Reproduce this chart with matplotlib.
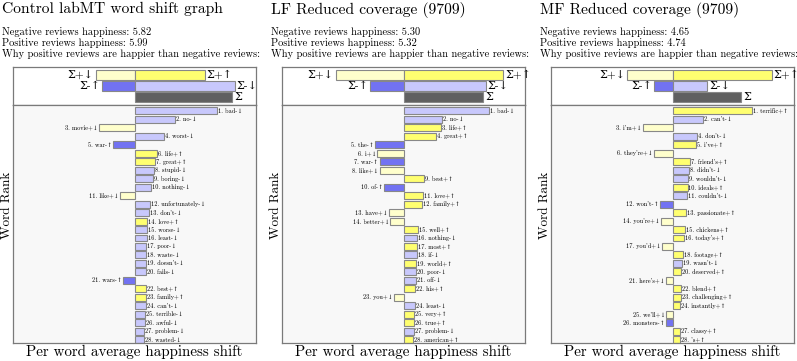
import matplotlib
matplotlib.use('Agg')
import matplotlib.pyplot as plt

plt.rcParams['font.family'] = ['cmr10', 'DejaVu Serif']
plt.rcParams['axes.formatter.use_mathtext'] = True

# panel titles and the two happiness averages
titles = ['Control labMT word shift graph', 'LF Reduced coverage (9709)', 'MF Reduced coverage (9709)']
neg_happs = [5.82, 5.30, 4.65]
pos_happs = [5.99, 5.32, 4.74]

# summary bars: sum +down, sum +up, sum -up, sum -down
ctrl_sums = [-39.3, 69.7, -33.0, 99.7]
lf_sums = [-68.0, 99.0, -33.7, 81.7]
mf_sums = [-45.7, 99.0, -19.0, 34.0]

ctrl_words = ['bad', 'no', 'movie', 'worst', 'war', 'life', 'great', 'stupid', 'boring', 'nothing',
              'like', 'unfortunately', "don't", 'love', 'worse', 'least', 'poor', 'waste', "doesn't",
              'fails', 'wars', 'best', 'family', "can't", 'terrible', 'awful', 'problem', 'wasted']
ctrl_types = ['-↓', '-↓', '+↓', '-↓', '-↑', '+↑', '+↑', '-↓', '-↓', '-↓', '+↓', '-↓', '-↓', '+↑',
              '-↓', '-↓', '-↓', '-↓', '-↓', '-↓', '-↑', '+↑', '+↑', '-↓', '-↓', '-↓', '-↓', '-↓']
ctrl_shift = [82.3, 40, -36.3, 29.3, -21.7, 21.7, 20, 19, 17.7, 15.7, -15.3, 14.7, 14, 12.3,
              12, 11.7, 11.3, 11.3, 11.3, 11, -11.7, 11, 10.7, 10.7, 10, 9.7, 9.3, 9]

lf_words = ['bad', 'no', 'life', 'great', 'the', 'i', 'war', 'like', 'best', 'of', 'love', 'family',
            'have', 'better', 'well', 'nothing', 'most', 'if', 'world', 'poor', 'off', 'his', 'you',
            'least', 'very', 'true', 'problem', 'american']
lf_types = ['-↓', '-↓', '+↑', '+↑', '-↑', '+↓', '-↑', '+↓', '+↑', '-↑', '+↑', '+↑', '+↓', '+↓',
            '+↑', '-↓', '+↑', '-↓', '+↑', '-↓', '-↓', '+↑', '+↓', '-↓', '+↑', '+↑', '-↓', '+↑']
lf_shift = [85.3, 38, 37.3, 32, -29.3, -26.7, -24.3, -24.3, 20, -19.7, 19, 18.3, -15.3, -13.7,
            13.7, 13.3, 13.3, 13, 12.3, 12, 11.7, 11.3, -10.3, 10.7, 10.3, 10, 9.7, 9.3]

mf_words = ['terrific', "can't", "i'm", "don't", "i've", "they're", "friend's", "didn't", "wouldn't",
            'ideals', "couldn't", "won't", 'passionate', "you're", 'chickens', "today's", "you'd",
            'footage', "wasn't", 'deserved', "here's", 'blend', 'challenging', 'instantly', "we'll",
            'monsters', 'classy', "'s"]
mf_types = ['+↑', '-↓', '+↓', '-↓', '+↑', '+↓', '+↑', '-↓', '-↓', '+↑', '-↓', '-↑', '+↑', '+↓',
            '+↑', '+↑', '+↓', '+↑', '-↓', '+↑', '+↓', '+↑', '+↑', '+↑', '+↓', '-↑', '+↑', '+↑']
mf_shift = [79, 30.3, -30.3, 23.7, 23.3, -19.3, 17.3, 15.7, 14.7, 14.5, 14.3, -13, 12.7, -12.3,
            12, 11.3, -10.7, 9.7, 9, 8.3, -7, 7.7, 7.7, 7.3, -6.7, -6.7, 7, 6.7]

panel_sums = [ctrl_sums, lf_sums, mf_sums]
panel_words = [ctrl_words, lf_words, mf_words]
panel_types = [ctrl_types, lf_types, mf_types]
panel_shifts = [ctrl_shift, lf_shift, mf_shift]

colors = {'+↑': '#ffff70', '+↓': '#ffffcc', '-↑': '#7272f2', '-↓': '#c8c8fc'}
edge = '#888888'
frame = '#7a7a7a'

W, H = 797, 361
fig = plt.figure(figsize=(W / 100, H / 100), dpi=100)

lefts = [13, 282, 551]
width = 243
y_top, y_div, y_bot = 67, 105, 343

for k in range(3):
    x0 = lefts[k]
    ax_s = fig.add_axes([x0 / W, 1 - y_div / H, width / W, (y_div - y_top) / H])
    ax_m = fig.add_axes([x0 / W, 1 - y_bot / H, width / W, (y_bot - y_div) / H])

    # header text
    fig.text((x0 - 11) / W, 1 - 13.5 / H, titles[k], fontsize=11.2, ha='left', va='baseline')
    fig.text((x0 - 11) / W, 1 - 35 / H, f'Negative reviews happiness: {neg_happs[k]:.2f}',
             fontsize=7.5, ha='left', va='baseline')
    fig.text((x0 - 11) / W, 1 - 46 / H, f'Positive reviews happiness: {pos_happs[k]:.2f}',
             fontsize=7.5, ha='left', va='baseline')
    fig.text((x0 - 11) / W, 1 - 56.7 / H, 'Why positive reviews are happier than negative reviews:',
             fontsize=7.5, ha='left', va='baseline')
    fig.text((x0 - 6.5) / W, 1 - 205 / H, 'Word Rank', fontsize=9.5, rotation=90,
             ha='center', va='center')

    # summary bars
    s_pd, s_pu, s_nu, s_nd = panel_sums[k]
    total = s_pd + s_pu + s_nu + s_nd
    ax_s.barh(1, s_pd, height=0.85, color=colors['+↓'], edgecolor=edge, linewidth=0.8)
    ax_s.barh(1, s_pu, height=0.85, color=colors['+↑'], edgecolor=edge, linewidth=0.8)
    ax_s.barh(2, s_nu, height=0.85, color=colors['-↑'], edgecolor=edge, linewidth=0.8)
    ax_s.barh(2, s_nd, height=0.85, color=colors['-↓'], edgecolor=edge, linewidth=0.8)
    ax_s.barh(3, total, height=0.85, color='#606060', edgecolor=edge, linewidth=0.8)
    ax_s.text(s_pd - 2, 1, 'Σ+↓', ha='right', va='center', fontsize=8)
    ax_s.text(s_pu + 2, 1, 'Σ+↑', ha='left', va='center', fontsize=8)
    ax_s.text(s_nu - 2, 2, 'Σ-↑', ha='right', va='center', fontsize=8)
    ax_s.text(s_nd + 2, 2, 'Σ-↓', ha='left', va='center', fontsize=8)
    ax_s.text(total + 2, 3, 'Σ', ha='left', va='center', fontsize=8)
    ax_s.set_xlim(-122, 121)
    ax_s.set_ylim(3.73, 0.27)

    # word bars
    words = panel_words[k]
    types = panel_types[k]
    shifts = panel_shifts[k]
    ranks = list(range(1, len(words) + 1))
    ax_m.barh(ranks, shifts, height=0.82, color=[colors[t] for t in types],
              edgecolor=edge, linewidth=0.8)
    for r, w, t, v in zip(ranks, words, types, shifts):
        label = f'{r}. {w}{t}'
        if v >= 0:
            ax_m.text(v + 1, r, label, ha='left', va='center', fontsize=4.5, clip_on=True)
        else:
            ax_m.text(v - 1, r, label, ha='right', va='center', fontsize=4.5, clip_on=True)
    ax_m.set_xlim(-122, 121)
    ax_m.set_ylim(28.38, 0.32)
    ax_m.set_facecolor('#f8f8f8')
    ax_m.set_xlabel('Per word average happiness shift', fontsize=10.8, labelpad=1)

    for a in (ax_s, ax_m):
        a.set_xticks([])
        a.set_yticks([])
        for sp in a.spines.values():
            sp.set_color(frame)
            sp.set_linewidth(0.9)

fig.savefig('out.png', dpi=100)
